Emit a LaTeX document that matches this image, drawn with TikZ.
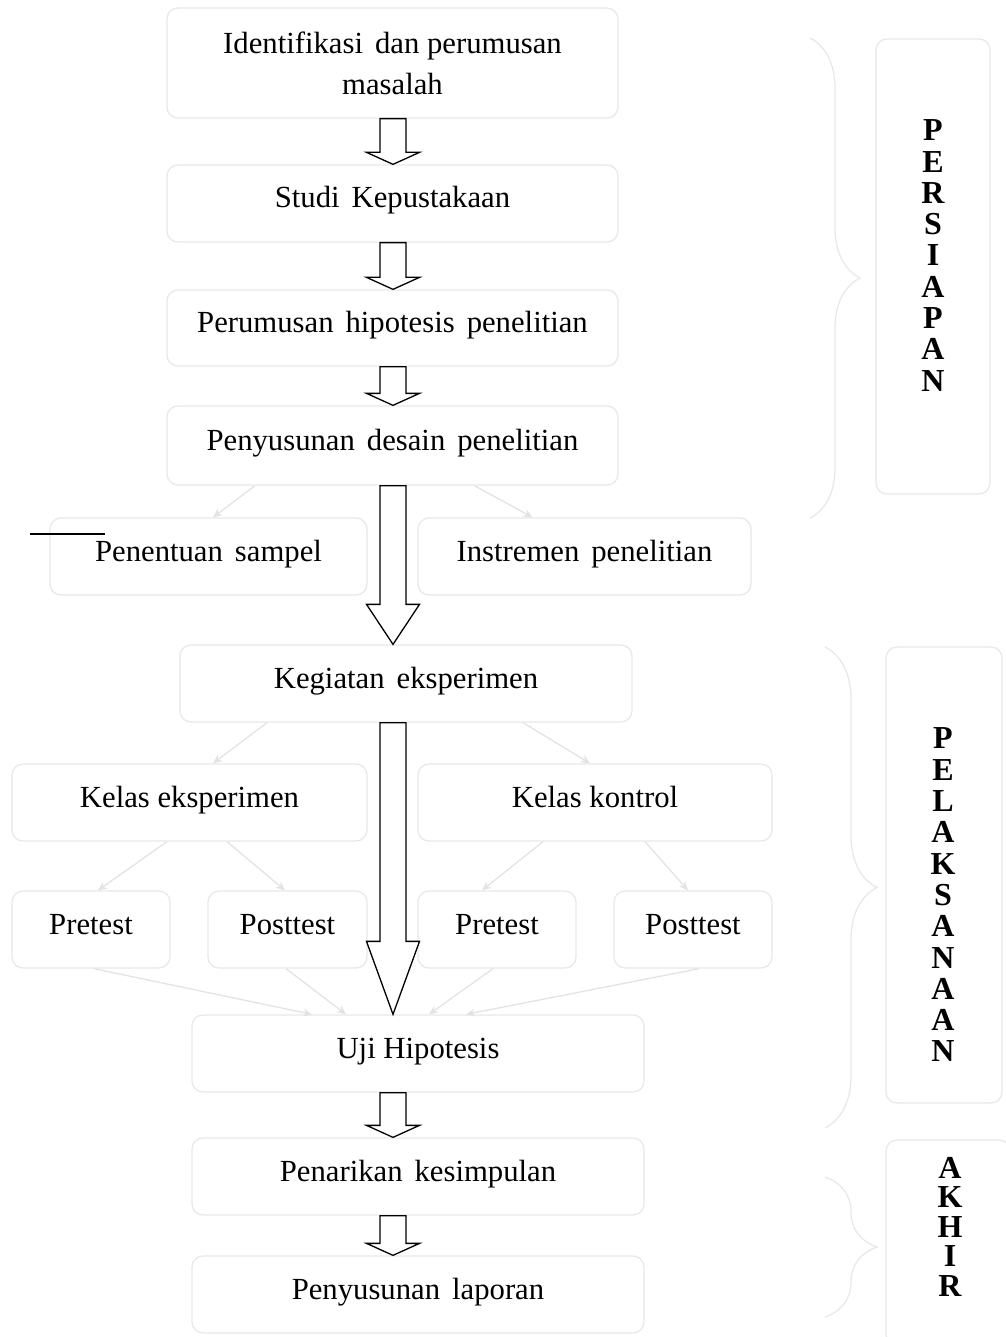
\documentclass[tikz,border=0pt]{standalone}
\usepackage{fontspec}
\setmainfont{Liberation Serif}
\usetikzlibrary{arrows.meta}
\usetikzlibrary{positioning}
\usetikzlibrary{calc}
\usetikzlibrary{decorations.pathreplacing}

\newcommand{\wgap}{\hspace{12pt}}

\tikzset{
	blockarrow/.style={draw=black,fill=white,line width=1.3pt,
		to path={let \p1=(\tikztostart),\p2=(\tikztotarget) in
			(\x1-13pt,\y1) -- (\x1+13pt,\y1) -- (\x1+13pt,\y2+#1) -- (\x1+26.5pt,\y2+#1)
			-- (\x1,\y2) -- (\x1-26.5pt,\y2+#1) -- (\x1-13pt,\y2+#1) -- cycle}},
	blockarrow/.default=12pt
}

\begin{document}
\begin{tikzpicture}[x=1pt,y=-1pt,font=\fontsize{30.7}{41}\selectfont]
			\tikzstyle{box}=[draw=black!9,line width=1.3pt,rounded corners=11pt,align=center,inner sep=0pt]
			\tikzstyle{single}=[box,text height=20pt,text depth=11pt]
			\tikzstyle{thin}=[draw=black!11,line width=1.3pt,-{Stealth[length=9pt,width=8pt]}]
			\tikzstyle{curly}=[draw=black!9,line width=1.3pt,decorate]
			\tikzstyle{phase}=[font=\bfseries\fontsize{32}{31.3}\selectfont,align=center]
			
			\useasboundingbox (0,0) rectangle (1005,1337);
			\coordinate (axis) at (393,0);
			
			% langkah-langkah
			\node[box,minimum width=451,minimum height=110]    (iden)   at (392.5,63)    {Identifikasi\wgap dan perumusan\\masalah};
			\node[single,minimum width=451,minimum height=77]  (studi)  at (392.5,203.5) {Studi\wgap Kepustakaan};
			\node[single,minimum width=451,minimum height=76]  (hipo)   at (392.5,328)   {Perumusan\wgap hipotesis\wgap penelitian};
			\node[single,minimum width=451,minimum height=79]  (desain) at (392.5,445.5) {Penyusunan\wgap desain\wgap penelitian};
			\node[single,minimum width=317,minimum height=77]  (sampel) at (208.5,556.5) {Penentuan\wgap sampel};
			\node[single,minimum width=333,minimum height=77]  (instr)  at (584.5,556.5) {Instremen\wgap penelitian};
			\node[single,minimum width=452,minimum height=77]  (keg)    at (406,683.5)   {Kegiatan\wgap eksperimen};
			\node[single,minimum width=355,minimum height=77]  (kelE)   at (189.5,802.5) {Kelas eksperimen};
			\node[single,minimum width=354,minimum height=77]  (kelK)   at (595,802.5)   {Kelas kontrol};
			\node[single,minimum width=158,minimum height=77]  (preE)   at (91,929.5)    {Pretest};
			\node[single,minimum width=159,minimum height=77]  (postE)  at (287.5,929.5) {Posttest};
			\node[single,minimum width=158,minimum height=77]  (preK)   at (497,929.5)   {Pretest};
			\node[single,minimum width=158,minimum height=77]  (postK)  at (693,929.5)   {Posttest};
			\node[single,minimum width=452,minimum height=77]  (uji)    at (418,1053.5)  {Uji Hipotesis};
			\node[single,minimum width=452,minimum height=77]  (tarik)  at (418,1176.5)  {Penarikan\wgap kesimpulan};
			\node[single,minimum width=452,minimum height=77]  (lapor)  at (418,1294.5)  {Penyusunan\wgap laporan};
			
			% tahap
			\node[box,minimum width=114,minimum height=455] (persBox) at (933,266.5) {};
			\node[phase] (pers) at (933,255.5) {P\\E\\R\\S\\I\\A\\P\\A\\N};
			\node[box,minimum width=116,minimum height=456] (pelBox) at (944,875) {};
			\node[phase] (pel) at (943,895) {P\\E\\L\\A\\K\\S\\A\\N\\A\\A\\N};
			\node[box,minimum width=124,minimum height=205] (akhBox) at (948,1242.5) {};
			\node[phase,font=\bfseries\fontsize{32}{29.5}\selectfont] (akh) at (950,1226.5) {A\\K\\H\\I\\R};
			
			\draw[curly,decoration={brace,amplitude=50pt}] (810,38) -- (810,518);
			\draw[curly,decoration={brace,amplitude=52pt}] (825,647) -- (825,1128);
			\draw[curly,decoration={brace,amplitude=52pt}] (825,1177) -- (825,1317);
			
			% panah tipis
			\draw[thin] ([xshift=-137.5]desain.south) -- ([xshift=4.5]sampel.north);
			\draw[thin] ([xshift=82]desain.south)     -- ([xshift=-52]instr.north);
			\draw[thin] ([xshift=-139]keg.south)      -- ([xshift=23.5]kelE.north);
			\draw[thin] ([xshift=117]keg.south)       -- ([xshift=-5]kelK.north);
			\draw[thin] ([xshift=-22.5]kelE.south)    -- ([xshift=7]preE.north);
			\draw[thin] ([xshift=37.5]kelE.south)     -- ([xshift=-2.5]postE.north);
			\draw[thin] ([xshift=-52]kelK.south)      -- ([xshift=-15]preK.north);
			\draw[thin] ([xshift=50]kelK.south)       -- ([xshift=-5]postK.north);
			\draw[thin] ([xshift=3]preE.south)        -- ([xshift=-106]uji.north);
			\draw[thin] ([xshift=-1.5]postE.south)    -- ([xshift=-72]uji.north);
			\draw[thin] ([xshift=-4]preK.south)       -- ([xshift=11]uji.north);
			\draw[thin] ([xshift=6]postK.south)       -- ([xshift=48]uji.north);
			
			% panah besar
			\draw[blockarrow] (iden.south -| axis)   to (studi.north -| axis);
			\draw[blockarrow] (studi.south -| axis)  to (hipo.north -| axis);
			\draw[blockarrow] (hipo.south -| axis)   to (desain.north -| axis);
			\draw[blockarrow=40pt] (desain.south -| axis) to (keg.north -| axis);
			\draw[blockarrow=73pt] (keg.south -| axis)    to (uji.north -| axis);
			\draw[blockarrow] (uji.south -| axis)    to (tarik.north -| axis);
			\draw[blockarrow] (tarik.south -| axis)  to (lapor.north -| axis);
			
			\coordinate (tickA) at (30,534);
			\coordinate (tickB) at (105,534);
			\draw[line width=1.3pt] (tickA) -- (tickB);
\end{tikzpicture}
\end{document}
